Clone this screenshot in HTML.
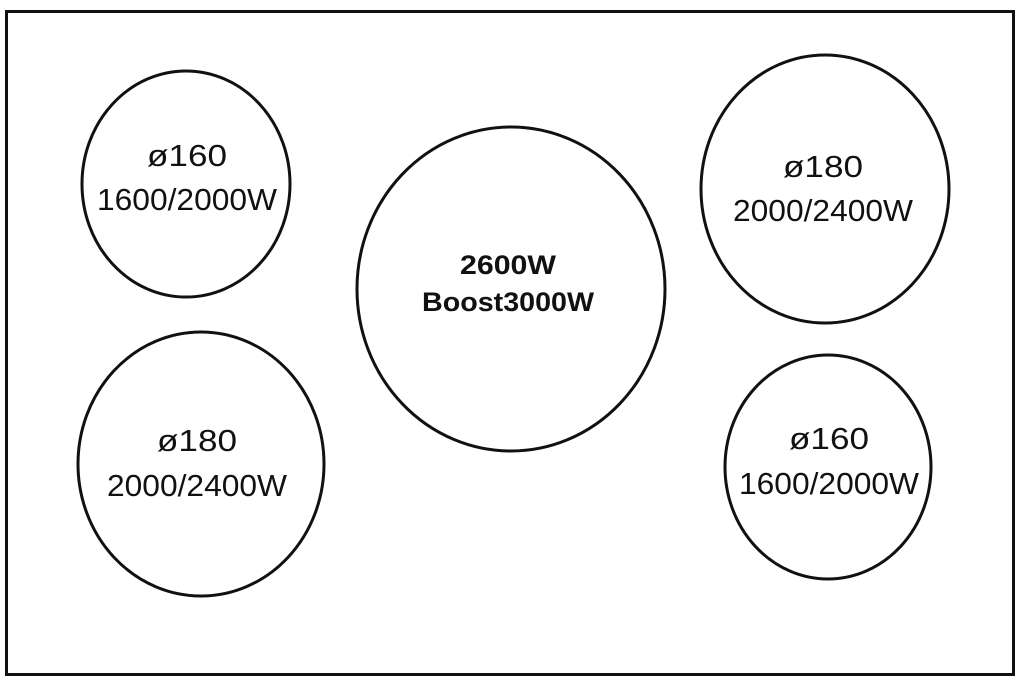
<!DOCTYPE html>
<html><head><style>html,body{margin:0;padding:0;background:#fff}svg{display:block}</style></head><body>
<svg width="1024" height="681" viewBox="0 0 1024 681" xmlns="http://www.w3.org/2000/svg" font-family="'Liberation Sans', sans-serif" fill="#111">
<rect x="6.5" y="11.5" width="1007" height="663" fill="none" stroke="#111" stroke-width="3"/>
<g fill="none" stroke="#111" stroke-width="3">
<ellipse cx="186" cy="184" rx="104" ry="113"/>
<ellipse cx="511" cy="289" rx="154" ry="162"/>
<ellipse cx="825" cy="189" rx="124" ry="134"/>
<ellipse cx="201" cy="464" rx="123" ry="132"/>
<ellipse cx="828" cy="467" rx="103" ry="112"/>
</g>
<g font-size="31" text-anchor="middle">
<text x="187" y="166" textLength="80" lengthAdjust="spacingAndGlyphs">ø160</text>
<text x="187" y="210" textLength="180" lengthAdjust="spacingAndGlyphs">1600/2000W</text>
<text x="823" y="177" textLength="80" lengthAdjust="spacingAndGlyphs">ø180</text>
<text x="823" y="221" textLength="180" lengthAdjust="spacingAndGlyphs">2000/2400W</text>
<text x="197" y="451" textLength="80" lengthAdjust="spacingAndGlyphs">ø180</text>
<text x="197" y="496" textLength="180" lengthAdjust="spacingAndGlyphs">2000/2400W</text>
<text x="829" y="449" textLength="80" lengthAdjust="spacingAndGlyphs">ø160</text>
<text x="829" y="494" textLength="180" lengthAdjust="spacingAndGlyphs">1600/2000W</text>
</g>
<g font-size="27" font-weight="bold" text-anchor="middle">
<text x="508" y="274" textLength="96" lengthAdjust="spacingAndGlyphs">2600W</text>
<text x="508" y="311" textLength="172" lengthAdjust="spacingAndGlyphs">Boost3000W</text>
</g>
</svg>
</body></html>
